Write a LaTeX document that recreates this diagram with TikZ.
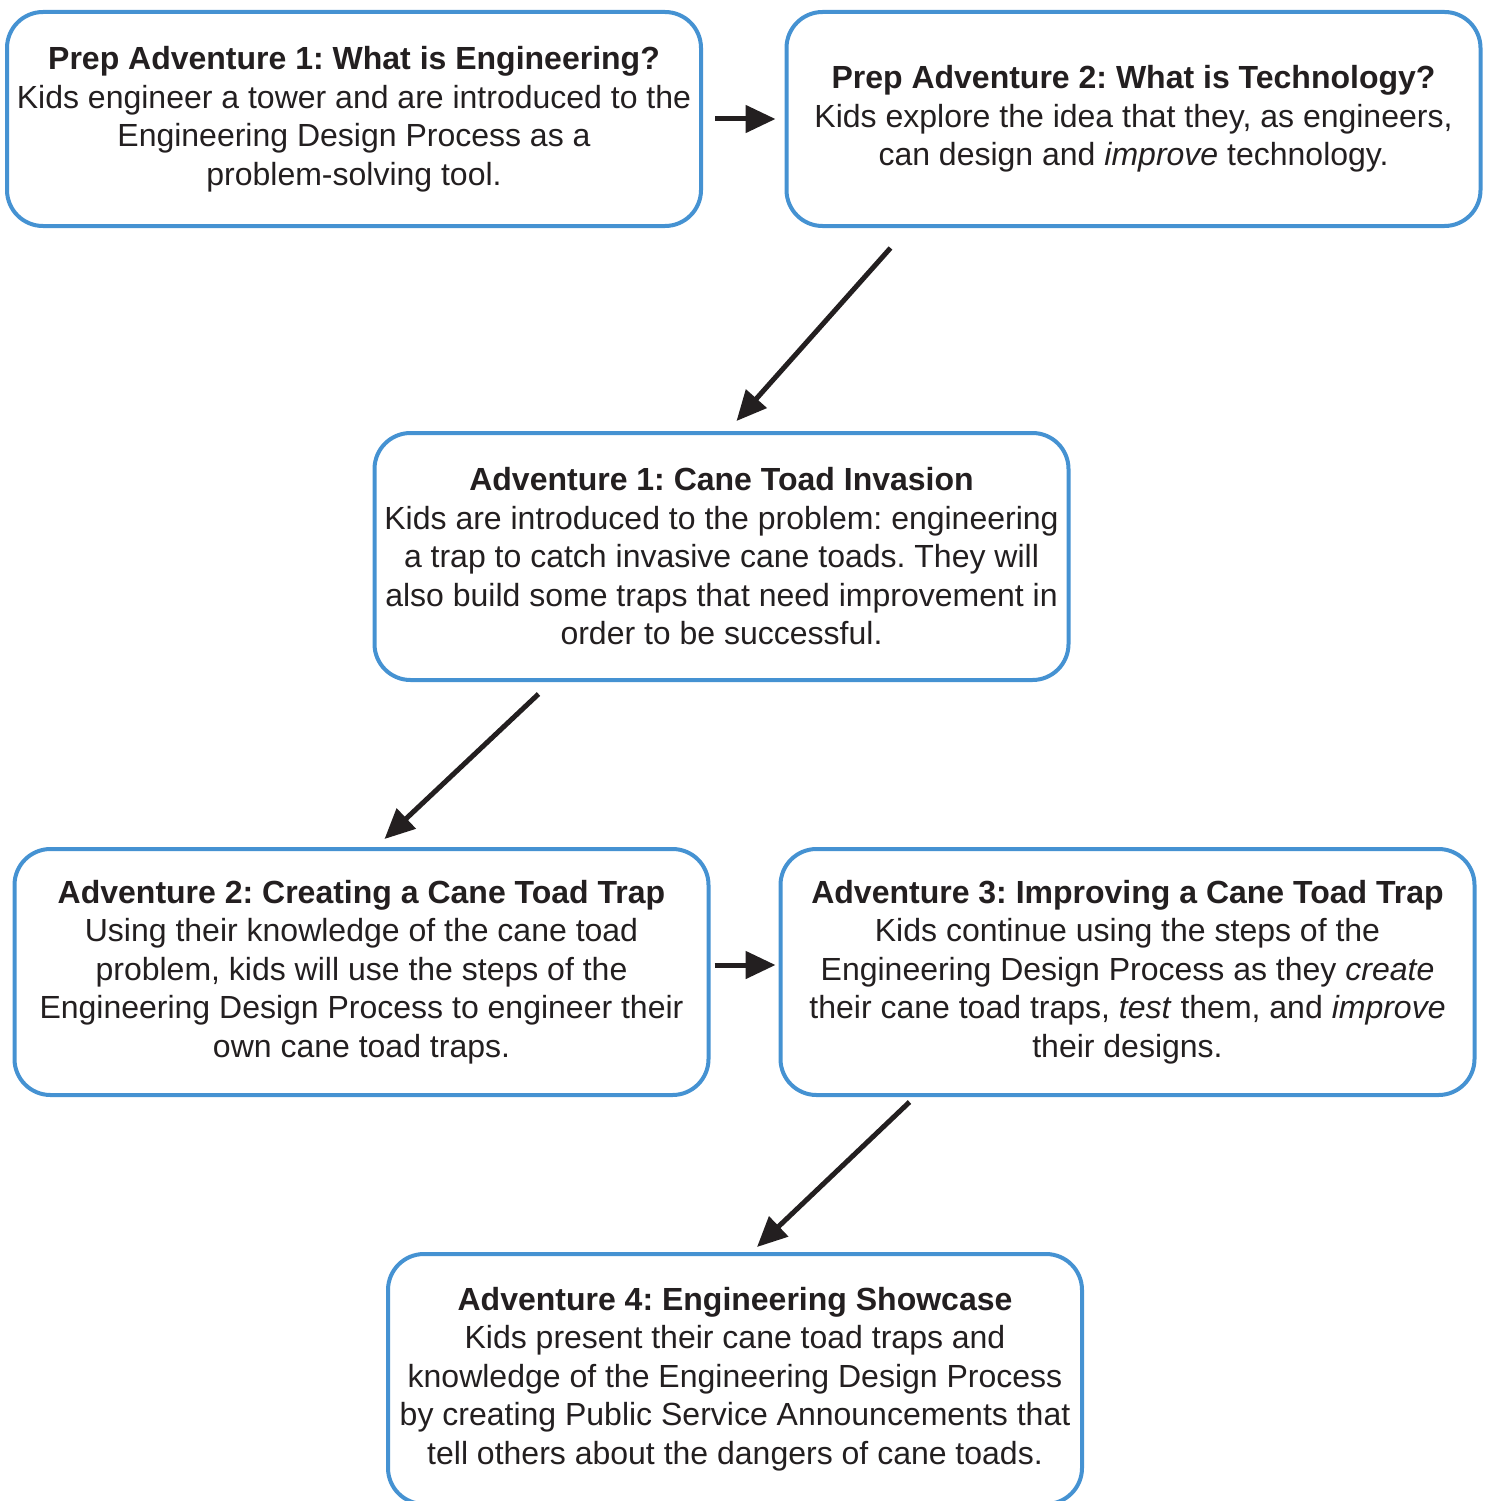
\documentclass[tikz,border=0pt]{standalone}
\usepackage{fontspec}
\setmainfont{Liberation Sans}
\usetikzlibrary{arrows.meta}
\definecolor{boxblue}{HTML}{4592D2}
\definecolor{ink}{HTML}{231F20}
\frenchspacing
\tikzset{
  box/.style={draw=boxblue, line width=4pt, rounded corners=36pt, fill=white,
    minimum width=694pt, align=center, inner sep=0pt,
    text=ink, font=\fontsize{32}{38.5}\selectfont\frenchspacing},
  arr/.style={draw=ink, line width=5pt, -{Triangle[length=30pt,width=27pt]}}
}
\begin{document}
\begin{tikzpicture}[x=1pt,y=-1pt]
\useasboundingbox (0,0) rectangle (1489,1501);
\node[box, minimum height=214pt] (b1) at (354,119) {\textbf{Prep Adventure 1: What is Engineering?}\\Kids engineer a tower and are introduced to the\\Engineering Design Process as a\\problem-solving tool.};
\node[box, minimum height=214pt] (b2) at (1133.5,119) {\textbf{Prep Adventure 2: What is Technology?}\\Kids explore the idea that they, as engineers,\\can design and \textit{improve} technology.};
\node[box, minimum height=247pt] (b3) at (721.5,556.5) {\textbf{Adventure 1: Cane Toad Invasion}\\Kids are introduced to the problem: engineering\\a trap to catch invasive cane toads. They will\\also build some traps that need improvement in\\order to be successful.};
\node[box, minimum height=246pt] (b4) at (361.5,972) {\textbf{Adventure 2: Creating a Cane Toad Trap}\\Using their knowledge of the cane toad\\problem, kids will use the steps of the\\Engineering Design Process to engineer their\\own cane toad traps.};
\node[box, minimum height=246pt] (b5) at (1127.5,972) {\textbf{Adventure 3: Improving a Cane Toad Trap}\\Kids continue using the steps of the\\Engineering Design Process as they \textit{create}\\their cane toad traps, \textit{test} them, and \textit{improve}\\their designs.};
\node[box, minimum height=250pt] (b6) at (735,1379) {\textbf{Adventure 4: Engineering Showcase}\\Kids present their cane toad traps and\\knowledge of the Engineering Design Process\\by creating Public Service Announcements that\\tell others about the dangers of cane toads.};
\draw[arr] ([xshift=12pt]b1.east) -- ([xshift=-9pt]b2.west);
\draw[arr] ([xshift=106pt,yshift=-20pt]b2.south west) -- ([xshift=15pt,yshift=10pt]b3.north);
\draw[arr] ([xshift=166pt,yshift=-12pt]b3.south west) -- ([xshift=23pt,yshift=8pt]b4.north);
\draw[arr] ([xshift=4pt,yshift=7pt]b4.east) -- ([xshift=-3pt,yshift=7pt]b5.west);
\draw[arr] ([xshift=131pt,yshift=-5pt]b5.south west) -- ([xshift=22pt,yshift=5pt]b6.north);
\end{tikzpicture}
\end{document}
